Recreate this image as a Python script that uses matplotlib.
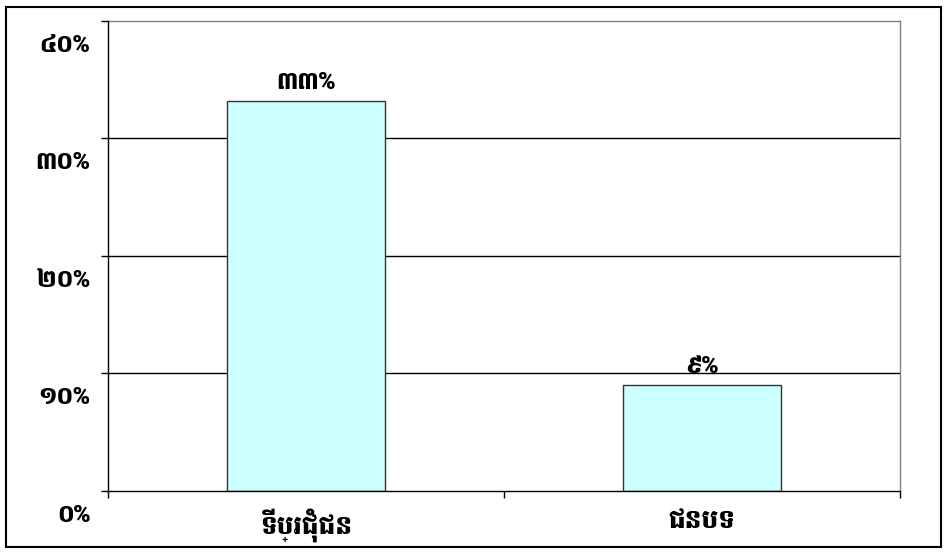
import matplotlib
matplotlib.use('Agg')
import matplotlib.pyplot as plt
from matplotlib.patches import Rectangle
from matplotlib.transforms import ScaledTranslation

plt.rcParams['font.family'] = ['Battambang', 'DejaVu Sans']
plt.rcParams['font.weight'] = 'black'

# data
categories = ['ទីប្រជុំជន', 'ជនបទ']
values = [33.2, 9.0]
value_labels = ['៣៣%', '៩%']
ytick_values = [0, 10, 20, 30, 40]
ytick_labels = ['០%', '១០%', '២០%', '៣០%', '៤០%']

fig = plt.figure(figsize=(9.47, 5.52), dpi=100)
ax = fig.add_axes([0.114, 0.1105, 0.836, 0.8515])

x = list(range(len(categories)))
ax.bar(x, values, width=0.4, color='#CCFFFF', edgecolor='#333333',
       linewidth=1, zorder=3)

# labels above bars
for xi, v, lab in zip(x, values, value_labels):
    ax.text(xi, v + 0.6, lab, ha='center', va='bottom', fontsize=17,
            fontweight='black', zorder=4)

ax.set_xlim(-0.5, 1.5)
ax.set_ylim(0, 40)
ax.set_yticks(ytick_values)
ax.set_yticklabels(ytick_labels, fontsize=17, fontweight='black')
ax.set_xticks(x)
ax.set_xticklabels(categories, fontsize=19, fontweight='black')
ax.tick_params(axis='x', length=0, pad=12)
ax.tick_params(axis='y', length=5, width=1, pad=8, color='black')

# y labels sit a little below their ticks, like the original
for lab in ax.get_yticklabels():
    lab.set_transform(lab.get_transform() + ScaledTranslation(0, -0.22, fig.dpi_scale_trans))

# tick marks between categories
ax.set_xticks([-0.5, 0.5, 1.5], minor=True)
ax.tick_params(axis='x', which='minor', length=5, width=1, color='black')

# gridlines
for yv in [10, 20, 30]:
    ax.axhline(yv, color='black', linewidth=1, zorder=1)

ax.spines['left'].set_color('black')
ax.spines['bottom'].set_color('black')
ax.spines['top'].set_color('#808080')
ax.spines['right'].set_color('#808080')
for s in ax.spines.values():
    s.set_linewidth(1)
ax.spines['left'].set_zorder(5)
ax.spines['bottom'].set_zorder(5)

# frame around the whole chart
fig.patches.append(Rectangle((0.006, 0.009), 0.988, 0.978, transform=fig.transFigure,
                             fill=False, edgecolor='black', linewidth=1.5))

fig.savefig('out.png', dpi=100)
